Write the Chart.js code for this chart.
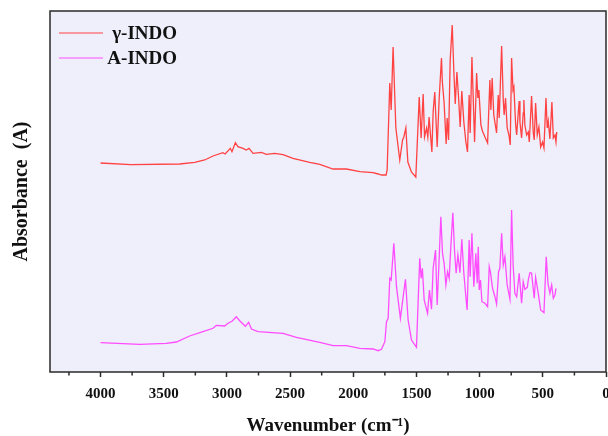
<!DOCTYPE html>
<html>
<head>
<meta charset="utf-8">
<script src="https://cdn.jsdelivr.net/npm/chart.js@4.4.1/dist/chart.umd.min.js"></script>
<style>
  html, body { margin: 0; padding: 0; background: #fff; }
  #wrap { width: 608px; height: 436px; }
</style>
</head>
<body>
<div id="wrap"><canvas id="ftir" width="608" height="436"></canvas></div>
<script>
// series labels
const seriesNames = ['γ-INDO', 'A-INDO'];

// gamma form, wavenumber (cm-1) and absorbance (a.u., offset)
const gammaWn = [4000, 3760, 3374, 3255, 3176, 3110, 3032, 3014, 2973, 2960, 2933, 2913, 2873, 2847, 2825, 2793,
  2727, 2688, 2622, 2556, 2477, 2345, 2265, 2160, 2054, 1948, 1843, 1803, 1777, 1740, 1732, 1711, 1700, 1685,
  1663, 1632, 1610, 1600, 1584, 1568, 1540, 1505, 1478, 1463, 1447, 1436, 1420, 1410, 1400, 1378, 1368, 1355,
  1336, 1320, 1302, 1295, 1281, 1265, 1257, 1246, 1233, 1217, 1203, 1193, 1180, 1167, 1154, 1141, 1125, 1109,
  1096, 1083, 1075, 1061, 1040, 1024, 1014, 1006, 990, 978, 958, 937, 919, 911, 901, 888, 866, 853, 845, 826,
  813, 806, 795, 782, 768, 758, 747, 736, 729, 715, 707, 694, 687, 681, 668, 655, 650, 642, 628, 615, 607, 589,
  576, 568, 557, 544, 531, 517, 502, 491, 475, 465, 457, 444, 428, 417, 404, 396, 390];
const gammaAbs = [209, 207.3, 208, 209.7, 212, 216, 219.3, 218, 223.7, 220.3, 229.3, 225.3, 223.7, 222, 223.7, 218.7,
  219.7, 217.7, 218.7, 217.3, 213.7, 209.7, 207.7, 203, 203, 200.3, 199.3, 198, 197, 197, 202, 289, 262, 325,
  244, 212, 232, 235, 244, 210, 200, 195, 275, 234, 278, 235, 244, 235, 255, 220, 260, 280,
  225, 274, 314, 290, 269, 228, 254, 232, 312, 347, 297, 268, 300, 275, 245, 281, 250, 230,
  220, 277, 239, 315, 230, 299, 274, 282, 247, 241, 235, 229, 292, 262, 294, 257, 239, 277, 254, 326,
  272, 257, 274, 244, 237, 227, 314, 282, 285, 247, 237, 260, 271, 250, 234, 259, 272, 247, 237, 240, 230, 276,
  240, 232, 269, 237, 245, 225, 230, 224, 274, 244, 251, 233, 270, 234, 237, 230, 240];

// amorphous form
const amorphWn = [4000, 3691, 3480, 3400, 3295, 3190, 3110, 3083, 3018, 2991, 2957, 2926, 2899, 2854, 2828, 2806,
  2754, 2556, 2450, 2265, 2160, 2054, 1948, 1843, 1803, 1777, 1750, 1737, 1724, 1711, 1700, 1679, 1658, 1627,
  1605, 1587, 1566, 1539, 1500, 1474, 1463, 1453, 1439, 1412, 1397, 1381, 1368, 1349, 1336, 1323, 1307, 1294,
  1281, 1267, 1254, 1241, 1228, 1212, 1199, 1186, 1172, 1156, 1141, 1125, 1109, 1099, 1083, 1075, 1061, 1046,
  1030, 1019, 1011, 1003, 993, 982, 958, 937, 924, 914, 898, 879, 866, 850, 840, 826, 813, 800, 782, 760, 747,
  735, 721, 707, 687, 668, 655, 642, 623, 615, 602, 589, 568, 557, 536, 517, 491, 473, 459, 444, 430, 417, 404, 396];
const amorphAbs = [29.3, 27.7, 28.7, 30, 36, 40.3, 43.7, 46.7, 46, 48.7, 51, 55.3, 51.3, 45.7, 49.7, 43,
  40.3, 38.7, 34.7, 29.7, 26.3, 26.3, 23.7, 23, 21.3, 22.7, 30.3, 50.3, 53.7, 93.7, 92, 128.7, 85.3, 53.7,
  75.3, 92.7, 52, 32, 24.7, 113.7, 93.7, 103.7, 72, 58.7, 82, 62.7, 103.7, 122, 67, 105.3, 155.3, 118.7,
  108.7, 87, 100.3, 93.7, 125.3, 159.3, 122, 98.7, 117, 99.3, 132.7, 98.7, 75.3, 62, 132, 95.3, 138.7, 85.3,
  118.7, 88.7, 125.3, 82, 92, 70.3, 68.7, 65.3, 105.3, 99.3, 83.7, 75.3, 68, 100.3, 103.7, 138.7, 107, 115.3, 87, 72.7, 162,
  107, 78.7, 75.3, 98.7, 68.7, 90.3, 82.7, 84.7, 92, 99.3, 99, 73.7, 94.7, 78.7, 62, 59.3, 115.3, 88.7, 78.7, 87, 73.7, 77, 83.7];

const xMin = 0, xMax = 4400, yMin = 0, yMax = 361;

const serif = "'Liberation Serif', 'Times New Roman', serif";

const toPoints = (wn, abs) => wn.map((w, i) => ({ x: w, y: abs[i] }));

// lavender plot panel + dark frame
const framePlugin = {
  id: 'frame',
  beforeDraw(chart) {
    const { ctx, chartArea: a } = chart;
    ctx.save();
    ctx.fillStyle = '#efeefb';
    ctx.fillRect(a.left, a.top, a.right - a.left, a.bottom - a.top);
    ctx.restore();
  },
  afterDraw(chart) {
    const { ctx, chartArea: a } = chart;
    const xs = chart.scales.x;
    ctx.save();
    ctx.strokeStyle = '#2a2a2a';
    ctx.lineWidth = 1.5;
    ctx.strokeRect(a.left, a.top, a.right - a.left, a.bottom - a.top);
    // minor ticks (every 250, shorter)
    xs.ticks.forEach(t => {
      if (t.value % 500 === 0) return;
      const px = xs.getPixelForValue(t.value);
      ctx.beginPath();
      ctx.moveTo(px, a.bottom);
      ctx.lineTo(px, a.bottom + 3.5);
      ctx.stroke();
    });
    ctx.restore();
  }
};

// legend inside the panel, text right aligned like the original
const legendPlugin = {
  id: 'insideLegend',
  afterDraw(chart) {
    const { ctx } = chart;
    const rows = [33, 58];
    ctx.save();
    ctx.font = 'bold 19px ' + serif;
    ctx.textAlign = 'right';
    ctx.textBaseline = 'middle';
    chart.data.datasets.forEach((ds, i) => {
      ctx.strokeStyle = ds.borderColor;
      ctx.lineWidth = 1.2;
      ctx.beginPath();
      ctx.moveTo(59, rows[i]);
      ctx.lineTo(103, rows[i]);
      ctx.stroke();
      ctx.fillStyle = '#111';
      ctx.fillText(ds.label, 177, rows[i] + 1);
    });
    ctx.restore();
  }
};

new Chart(document.getElementById('ftir'), {
  type: 'line',
  data: {
    datasets: [
      { label: seriesNames[0], data: toPoints(gammaWn, gammaAbs), borderColor: '#ff4242', borderWidth: 1.3, pointRadius: 0, tension: 0 },
      { label: seriesNames[1], data: toPoints(amorphWn, amorphAbs), borderColor: '#ff4cff', borderWidth: 1.3, pointRadius: 0, tension: 0 }
    ]
  },
  options: {
    responsive: false,
    animation: false,
    events: [],
    layout: { padding: { top: 11, right: 2, left: 0, bottom: 0 } },
    plugins: { legend: { display: false }, tooltip: { enabled: false } },
    scales: {
      x: {
        type: 'linear',
        reverse: true,
        min: xMin,
        max: xMax,
        border: { display: false },
        grid: {
          drawOnChartArea: false,
          drawTicks: true,
          tickLength: 5,
          tickWidth: 1.5,
          tickColor: ctx => (ctx.tick && ctx.tick.value % 500 === 0) ? '#2a2a2a' : 'rgba(0,0,0,0)'
        },
        ticks: {
          stepSize: 250,
          includeBounds: false,
          autoSkip: false,
          maxRotation: 0,
          padding: 8,
          color: '#111',
          font: { family: serif, size: 15, weight: 'bold' },
          callback: v => (v % 500 === 0 ? String(v) : '')
        },
        title: {
          display: true,
          text: 'Wavenumber (cm⁻¹)',
          color: '#111',
          font: { family: serif, size: 19, weight: 'bold', lineHeight: 1 },
          padding: { top: 0, bottom: 0 }
        },
        afterFit(scale) {
          scale.height = 64;
          scale.paddingLeft = 0;
          scale.paddingRight = 0;
        }
      },
      y: {
        min: yMin,
        max: yMax,
        border: { display: false },
        grid: { display: false },
        ticks: { display: false },
        title: {
          display: true,
          text: 'Absorbance  (A)',
          color: '#111',
          font: { family: serif, size: 20, weight: 'bold', lineHeight: 1.2 },
          padding: { top: 10, bottom: 0 }
        },
        afterFit(scale) {
          scale.width = 50;
        }
      }
    }
  },
  plugins: [framePlugin, legendPlugin]
});
</script>
</body>
</html>
